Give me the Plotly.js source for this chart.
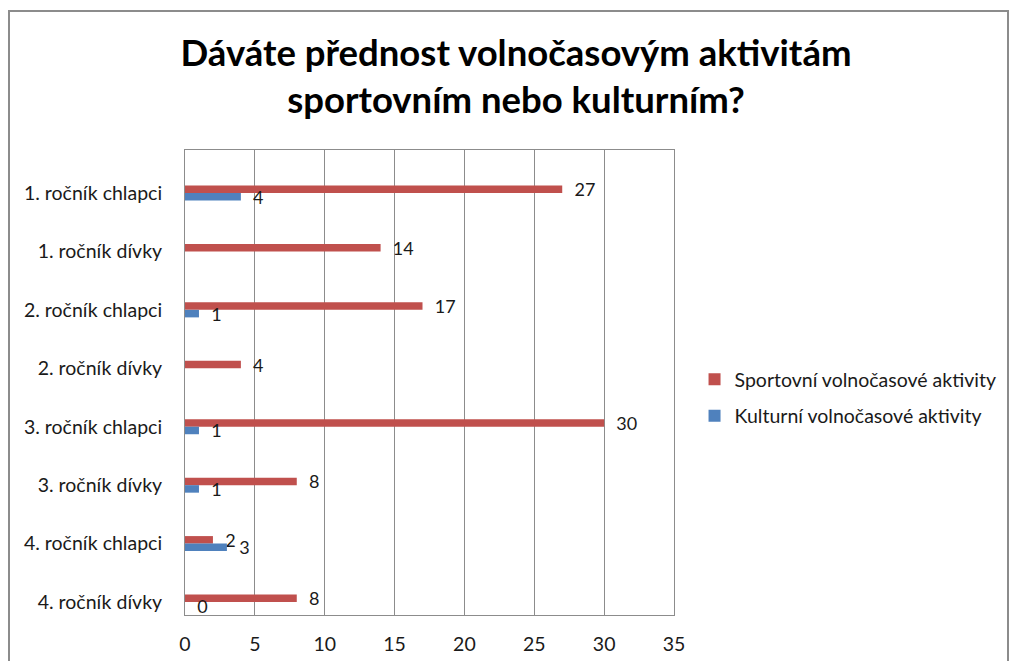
<!DOCTYPE html>
<html>
<head>
<meta charset="utf-8">
<script src="https://cdn.plot.ly/plotly-3.0.1.min.js"></script>
<style>
  html, body { margin: 0; padding: 0; background: #ffffff; }
  #chart { width: 1011px; height: 661px; }
</style>
</head>
<body>
<div id="chart"></div>
<script>
const categories = [
  "1. ročník chlapci",
  "1. ročník dívky",
  "2. ročník chlapci",
  "2. ročník dívky",
  "3. ročník chlapci",
  "3. ročník dívky",
  "4. ročník chlapci",
  "4. ročník dívky"
];
const sportovni = [27, 14, 17, 4, 30, 8, 2, 8];
const kulturni = [4, null, 1, null, 1, 1, 3, 0];
const seriesNames = ["Sportovní volnočasové aktivity", "Kulturní volnočasové aktivity"];
const xTicks = [0, 5, 10, 15, 20, 25, 30, 35];
const titleText = "Dáváte přednost volnočasovým aktivitám<br>sportovním nebo kulturním?";

const FONT = "Lato, 'Noto Sans', sans-serif";
const textFont = { family: FONT, size: 18, color: "#1a1a1a" };
const tickFont = { family: FONT, size: 19.5, color: "#1a1a1a" };

const traces = [
  {
    type: "bar", orientation: "h", name: seriesNames[0],
    y: categories, x: sportovni,
    marker: { color: "#C0504D" },
    texttemplate: "\u00a0\u00a0%{x}", textposition: "outside",
    textfont: textFont, cliponaxis: false, constraintext: "none",
    legendgroup: "a", hoverinfo: "x+y"
  },
  {
    type: "bar", orientation: "h", name: seriesNames[1],
    y: categories, x: kulturni,
    marker: { color: "#4F81BD" },
    texttemplate: "\u00a0\u00a0%{x}", textposition: "outside",
    textfont: textFont, cliponaxis: false, constraintext: "none",
    legendgroup: "b", hoverinfo: "x+y"
  }
];

const layout = {
  width: 1011, height: 661,
  paper_bgcolor: "#ffffff", plot_bgcolor: "#ffffff",
  margin: { l: 185, r: 337, t: 150, b: 46, pad: 0, autoexpand: false },
  font: { family: FONT, size: 19.5, color: "#1a1a1a" },
  title: {
    text: titleText,
    font: { family: FONT, size: 36.5, color: "#000000", weight: "bold" },
    x: 516 / 1011, xanchor: "center", xref: "container",
    y: 1 - 66 / 661, yanchor: "middle", yref: "container"
  },
  barmode: "group",
  bargap: 0.743,
  bargroupgap: 0,
  showlegend: true,
  legend: {
    x: 1.042, xanchor: "left", y: 0.548, yanchor: "top",
    font: tickFont,
    traceorder: "grouped", tracegroupgap: 8,
    bgcolor: "rgba(0,0,0,0)"
  },
  xaxis: {
    range: [0, 35], tickvals: xTicks, ticktext: xTicks.map(String),
    showgrid: true, gridcolor: "#8c8c8c", gridwidth: 1,
    showline: true, linecolor: "#8c8c8c", linewidth: 1, mirror: true,
    zeroline: false, ticks: "", ticklabelstandoff: 12,
    tickfont: tickFont,
    fixedrange: true
  },
  yaxis: {
    type: "category", categoryorder: "array", categoryarray: categories,
    range: [7.222, -0.736],
    showgrid: false, showline: true, linecolor: "#8c8c8c", linewidth: 1, mirror: true,
    zeroline: false, ticks: "", ticklabelstandoff: 18,
    tickfont: tickFont,
    fixedrange: true
  },
  shapes: [
    {
      type: "rect", xref: "paper", yref: "paper",
      x0: (9 - 185) / 489, x1: (1008 - 185) / 489,
      y0: -0.3, y1: 1 + (150 - 11) / 465,
      line: { color: "#8c8c8c", width: 2 }, fillcolor: "rgba(0,0,0,0)", layer: "below"
    }
  ]
};

Plotly.newPlot("chart", traces, layout, { staticPlot: true, displayModeBar: false });
</script>
</body>
</html>
